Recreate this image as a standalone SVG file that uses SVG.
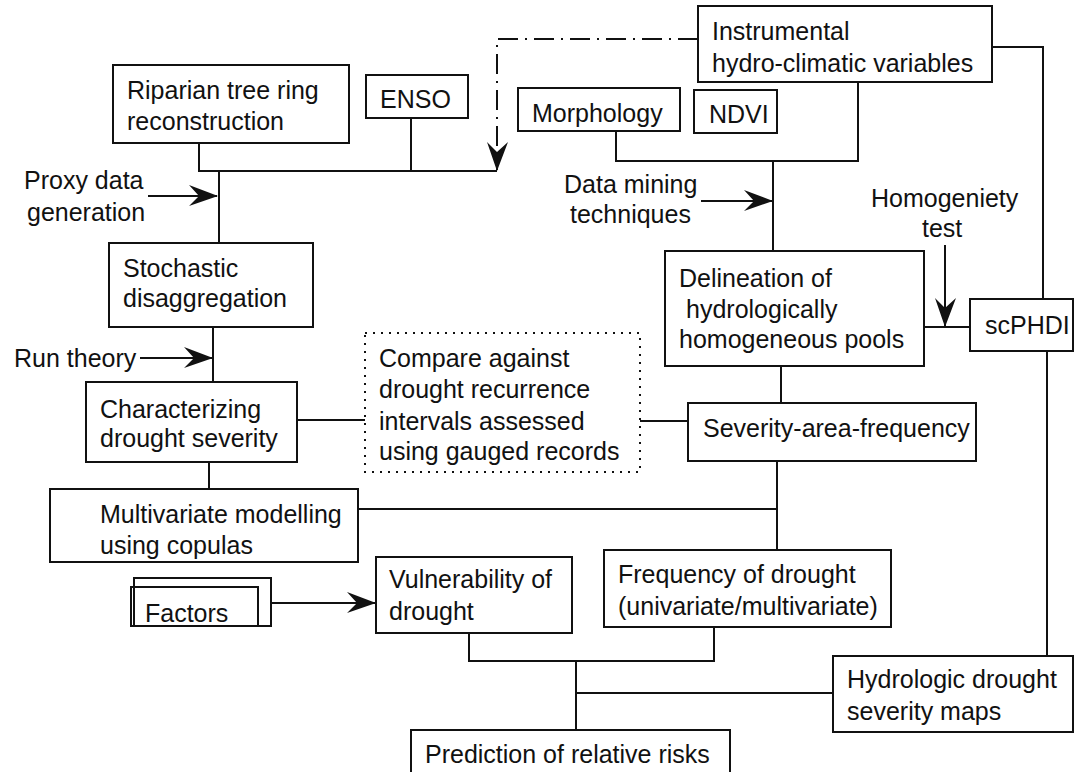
<svg xmlns="http://www.w3.org/2000/svg" width="1074" height="772" viewBox="0 0 1074 772">
<style>
.box{fill:none;stroke:#111;stroke-width:2}
.ln{fill:none;stroke:#111;stroke-width:2}
.dd{fill:none;stroke:#111;stroke-width:2;stroke-dasharray:20 7 2 7}
.dot{fill:none;stroke:#111;stroke-width:2;stroke-dasharray:2 6}
text{font-family:"Liberation Sans",Arial,sans-serif;font-size:25px;fill:#111}
</style>
<defs>
<marker id="ah" markerWidth="32" markerHeight="26" viewBox="-30 -13 32 26" refX="0" refY="0" orient="auto" markerUnits="userSpaceOnUse">
<path d="M1,0 L-28,-11 L-18,0 L-28,10 Z" fill="#111"/>
</marker>
</defs>
<rect width="1074" height="772" fill="#fff"/>

<g id="connectors">
<path class="ln" d="M199,143 V171 H497"/>
<path class="ln" d="M411,118 V171"/>
<path class="ln" d="M219,171 V243"/>
<path class="ln" d="M148,196 H217" marker-end="url(#ah)"/>
<path class="dd" d="M698,39 H497 V170" marker-end="url(#ah)"/>
<path class="ln" d="M992,47 H1043 V299"/>
<path class="ln" d="M616,131 V161 H858 V82"/>
<path class="ln" d="M773,161 V251"/>
<path class="ln" d="M701,201 H772" marker-end="url(#ah)"/>
<path class="ln" d="M945,245 V326" marker-end="url(#ah)"/>
<path class="ln" d="M924,327 H970"/>
<path class="ln" d="M1047,351 V656"/>
<path class="ln" d="M781,366 V403"/>
<path class="ln" d="M213,327 V382"/>
<path class="ln" d="M140,358 H212" marker-end="url(#ah)"/>
<path class="ln" d="M297,420 H365"/>
<path class="ln" d="M640,421 H688"/>
<path class="ln" d="M209,462 V489"/>
<path class="ln" d="M358,509 H777"/>
<path class="ln" d="M777,461 V550"/>
<path class="ln" d="M271,603 H375" marker-end="url(#ah)"/>
<path class="ln" d="M469,633 V661 H714 V627"/>
<path class="ln" d="M576,661 V730"/>
<path class="ln" d="M576,693 H833"/>
</g>

<g id="riparian"><rect class="box" x="113" y="65" width="236" height="78"/><text><tspan x="127" y="99">Riparian tree ring</tspan><tspan x="127" y="130">reconstruction</tspan></text></g>
<g id="enso"><rect class="box" x="366" y="75" width="102" height="43"/><text x="380" y="108">ENSO</text></g>
<g id="instrumental"><rect class="box" x="698" y="6" width="294" height="76"/><text><tspan x="712" y="40">Instrumental</tspan><tspan x="712" y="72">hydro-climatic variables</tspan></text></g>
<g id="morphology"><rect class="box" x="518" y="88" width="162" height="43"/><text x="532" y="122">Morphology</text></g>
<g id="ndvi"><rect class="box" x="694" y="90" width="83" height="43"/><text x="709" y="123">NDVI</text></g>
<g id="label-proxy"><text><tspan x="24" y="189">Proxy data</tspan><tspan x="27" y="221">generation</tspan></text></g>
<g id="stochastic"><rect class="box" x="109" y="243" width="204" height="84"/><text><tspan x="123" y="277">Stochastic</tspan><tspan x="123" y="307">disaggregation</tspan></text></g>
<g id="label-run"><text x="14" y="367">Run theory</text></g>
<g id="label-mining"><text><tspan x="564" y="193">Data mining</tspan><tspan x="570" y="223">techniques</tspan></text></g>
<g id="label-homogeneity"><text><tspan x="871" y="207">Homogeniety</tspan><tspan x="922" y="237">test</tspan></text></g>
<g id="delineation"><rect class="box" x="665" y="251" width="259" height="115"/><text><tspan x="679" y="287">Delineation of</tspan><tspan x="686" y="318">hydrologically</tspan><tspan x="679" y="348">homogeneous pools</tspan></text></g>
<g id="scphdi"><rect class="box" x="970" y="299" width="103" height="52"/><text x="985" y="334">scPHDI</text></g>
<g id="characterizing"><rect class="box" x="86" y="382" width="211" height="80"/><text><tspan x="100" y="418">Characterizing</tspan><tspan x="100" y="447">drought severity</tspan></text></g>
<g id="compare"><rect class="dot" x="365" y="333" width="275" height="139"/><text><tspan x="379" y="367">Compare against</tspan><tspan x="379" y="398">drought recurrence</tspan><tspan x="379" y="430">intervals assessed</tspan><tspan x="379" y="460">using gauged records</tspan></text></g>
<g id="severity"><rect class="box" x="688" y="403" width="288" height="58"/><text x="703" y="437">Severity-area-frequency</text></g>
<g id="multivariate"><rect class="box" x="50" y="489" width="308" height="73"/><text><tspan x="100" y="523">Multivariate modelling</tspan><tspan x="100" y="554">using copulas</tspan></text></g>
<g id="factors"><rect class="box" x="134" y="578" width="137" height="48"/><rect class="box" x="131" y="587" width="127" height="39"/><text x="145" y="622">Factors</text></g>
<g id="vulnerability"><rect class="box" x="376" y="557" width="196" height="76"/><text><tspan x="389" y="588">Vulnerability of</tspan><tspan x="389" y="620">drought</tspan></text></g>
<g id="frequency"><rect class="box" x="604" y="550" width="287" height="77"/><text><tspan x="618" y="583">Frequency of drought</tspan><tspan x="618" y="615">(univariate/multivariate)</tspan></text></g>
<g id="hydrologic"><rect class="box" x="833" y="656" width="240" height="76"/><text><tspan x="847" y="688">Hydrologic drought</tspan><tspan x="847" y="720">severity maps</tspan></text></g>
<g id="prediction"><rect class="box" x="411" y="730" width="319" height="60"/><text x="425" y="763">Prediction of relative risks</text></g>
</svg>
